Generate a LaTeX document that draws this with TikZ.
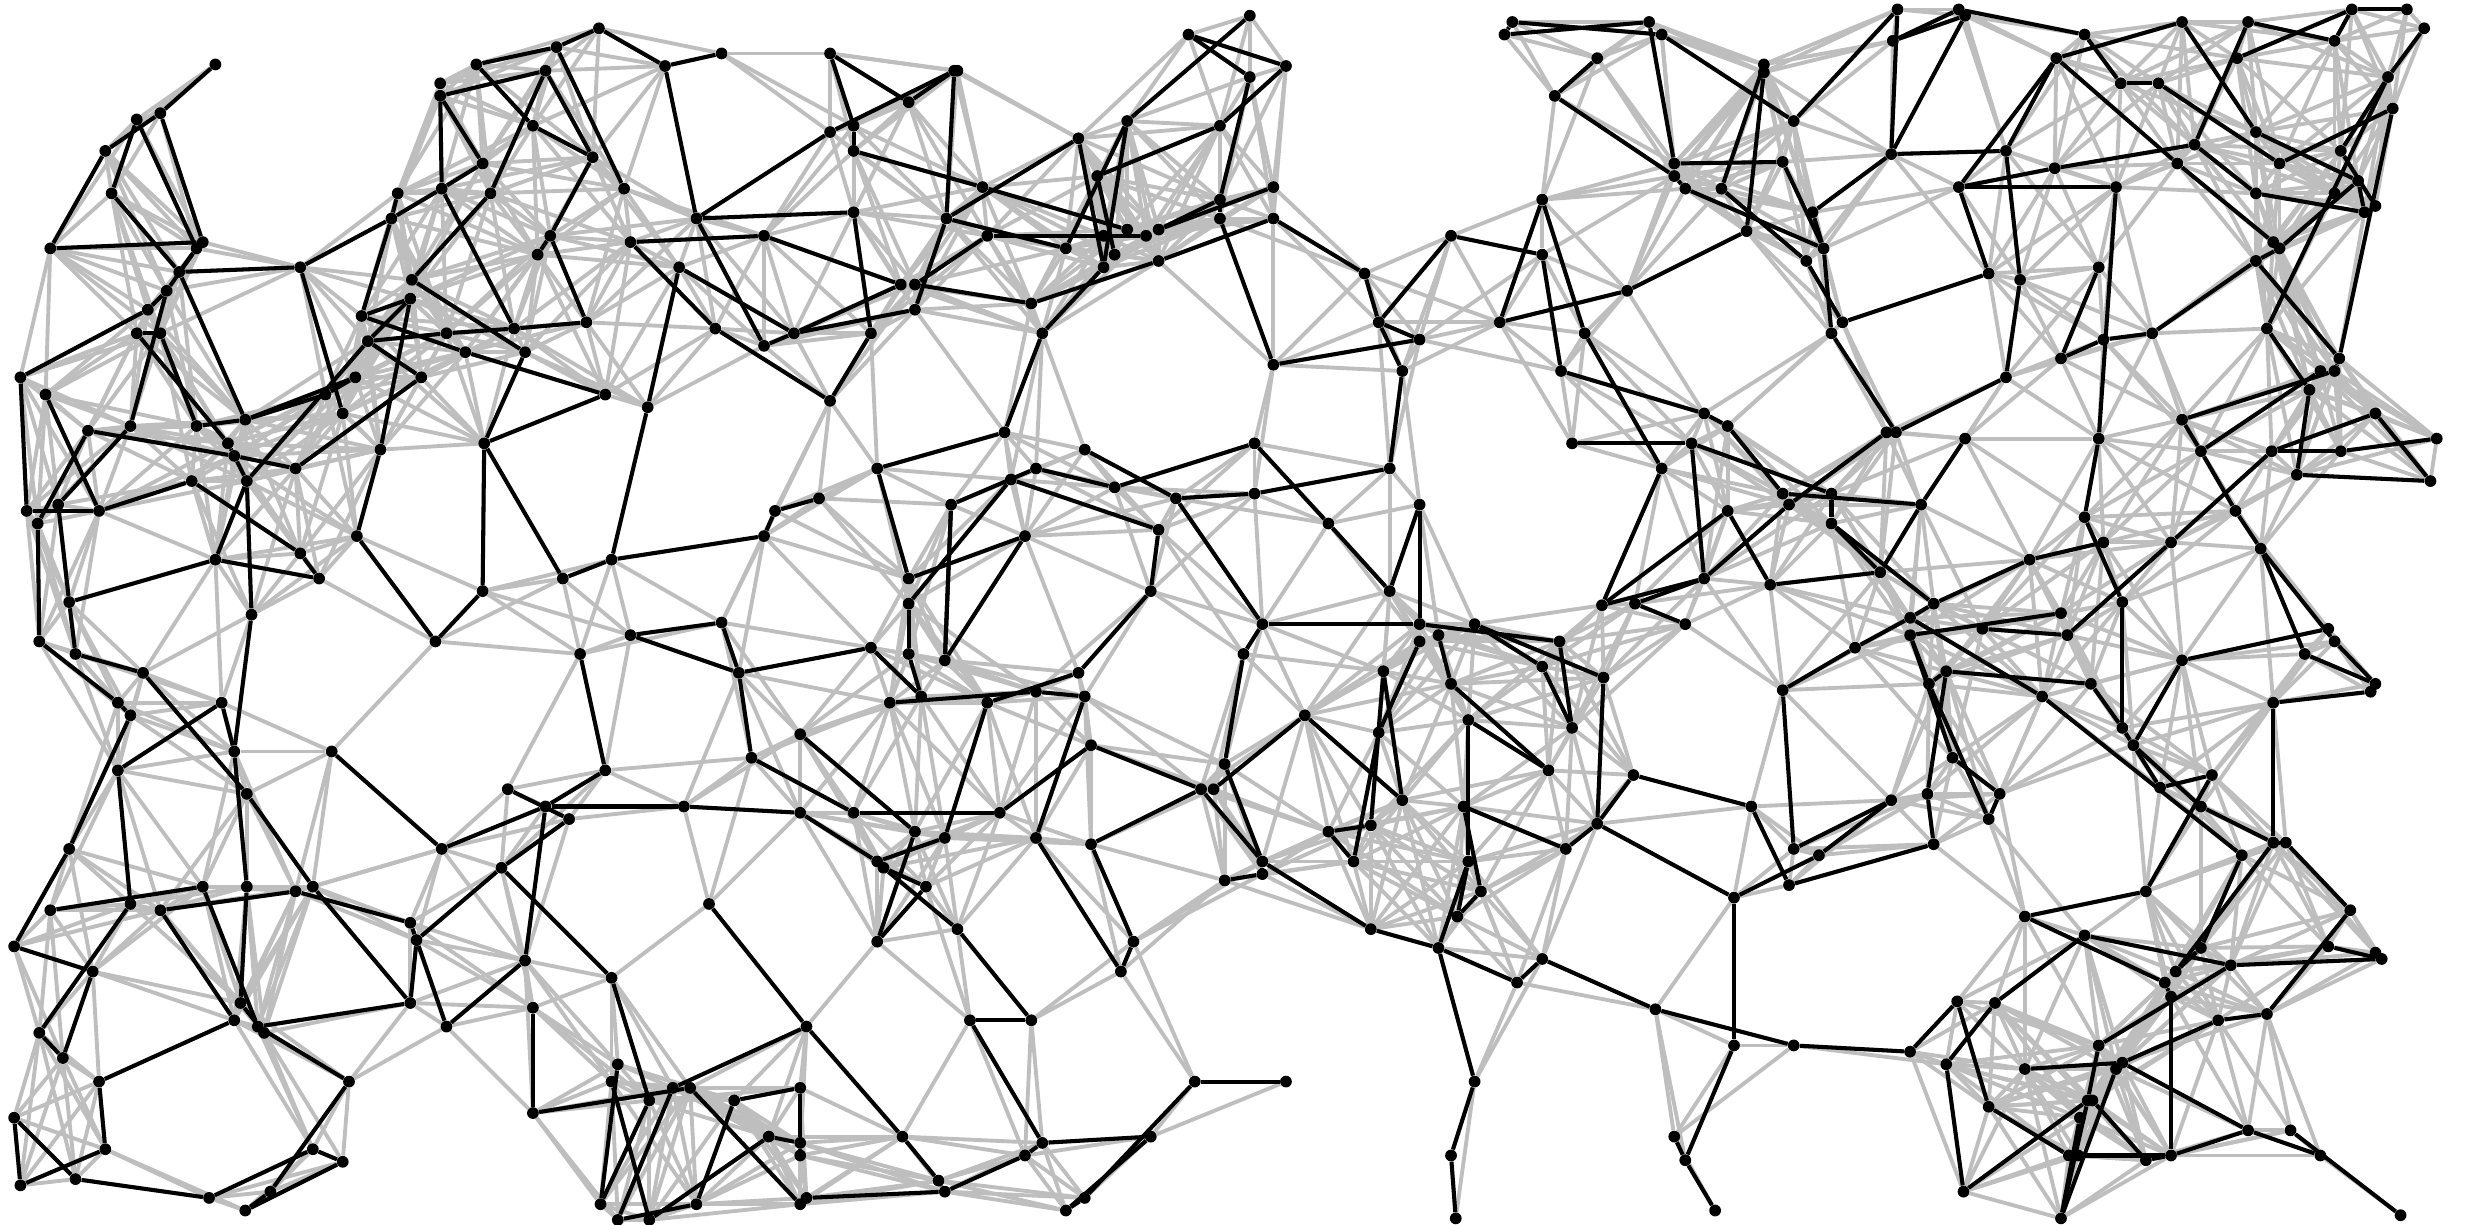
\documentclass[tikz,border=0pt]{standalone}
\usepackage{tikz}
\usetikzlibrary{backgrounds}
\definecolor{linkgray}{RGB}{190,190,190}
\newcount\linkb
\newcommand{\graylinkstep}[1]{%
  \advance\linkb by 1\relax
  \ifnum\linkb>488\else
    \ifnum\numexpr(\csname px#1\endcsname-\csname px\the\linkb\endcsname)*(\csname px#1\endcsname-\csname px\the\linkb\endcsname)+(\csname py#1\endcsname-\csname py\the\linkb\endcsname)*(\csname py#1\endcsname-\csname py\the\linkb\endcsname)\relax<9801\relax
      \draw[grayedge] (n#1) -- (n\the\linkb);
    \fi
    \graylinkstep{#1}%
  \fi}

\begin{document}
\begin{tikzpicture}[
    x=0.03cm, y=-0.03cm,
    dot/.style={circle, fill=black, draw=none, inner sep=0pt, minimum size=6.4pt},
    grayedge/.style={draw=linkgray, line width=2.1pt},
    blackedge/.style={draw=black, line width=2.2pt},
]
\useasboundingbox (0,0) rectangle (1568,779);

% ===== nodes =====
\foreach \i/\x/\y in {
1/137/41,2/102/72,3/87/76,4/67/96,5/71/123,6/32/158,7/129/154,8/125/158,9/114/173,10/191/170,
11/106/185,12/94/197,13/87/212,14/102/212,15/13/240,16/29/251,17/56/274,18/83/271,19/125/271,20/156/267,
21/207/251,22/226/240,23/218/263,24/268/240,25/145/282,26/149/290,27/157/306,28/188/298,29/122/306,30/63/325,
31/37/321,32/17/325,33/24/333,34/227/341,35/137/356,36/191/352,37/203/368,38/44/383,39/160/391,40/242/286,
41/308/282,42/385/251,43/412/259,44/307/376,45/358/368,46/389/356,47/486/341,48/493/325,49/521/317,50/381/18,
51/423/42,52/459/34,53/354/30,54/303/41,55/347/45,56/280/53,57/280/61,58/339/80,59/377/100,60/307/104,
61/397/120,62/281/120,63/253/123,64/312/123,65/249/139,66/443/139,67/350/150,68/342/162,69/401/154,70/486/150,
71/432/170,72/262/178,73/261/190,74/230/201,75/234/217,76/284/212,77/327/209,78/373/205,79/296/224,80/334/224,
81/455/209,82/486/220,83/505/212,84/528/34,85/578/65,86/607/45,87/528/84,88/543/80,89/543/96,90/625/119,
91/602/139,92/543/135,93/628/150,94/678/158,95/686/88,96/698/112,97/717/77,98/756/22,99/795/10,100/795/49,
101/818/42,102/776/80,103/776/127,104/810/119,105/776/139,106/810/139,107/717/146,108/737/146,109/729/150,110/702/150,
111/709/162,112/702/170,113/737/166,114/573/181,115/582/181,116/582/197,117/656/193,118/663/212,119/554/212,120/528/255,
121/639/275,122/558/298,123/690/286,124/659/298,125/643/305,126/605/321,127/709/310,128/748/317,129/798/282,130/798/314,
131/884/298,132/845/333,133/903/321,134/737/337,135/652/341,136/578/368,137/578/384,138/732/376,139/884/376,140/810/232,
141/868/174,142/877/205,143/903/216,144/892/236,145/923/150,146/981/162,147/981/127,148/954/205,149/1035/185,150/1008/212,
151/993/236,152/1000/282,153/989/61,154/1016/37,155/962/14,156/957/22,157/1049/14,158/1057/22,159/1122/41,160/1122/46,
161/1141/77,162/1207/6,163/1246/6,164/1250/10,165/1204/26,166/1203/98,167/1065/104,168/1134/103,169/1065/112,170/1072/120,
171/1095/120,172/1111/147,173/1153/135,174/1160/158,175/1149/166,176/1172/205,177/1165/212,178/1276/96,179/1246/119,180/1307/107,
181/1346/119,182/1308/37,183/1326/22,184/1349/53,185/1373/53,186/1388/14,187/1430/14,188/1485/26,189/1423/37,190/1496/6,
191/1531/6,192/1542/18,193/1519/49,194/1522/69,195/1435/84,196/1396/92,197/1385/104,198/1450/104,199/1489/96,200/1435/123,
201/1485/123,202/1500/115,203/1504/135,204/1511/131,205/1446/154,206/1450/158,207/1435/166,208/1265/174,209/1285/178,210/1335/170,
211/1369/212,212/1338/216,213/1311/228,214/1276/240,215/1442/209,216/1488/228,217/1476/236,218/1485/236,219/1469/248,220/1200/275,
221/1206/275,222/1250/279,223/1335/279,224/1388/267,225/1400/287,226/1445/287,227/1489/287,228/1511/263,229/1550/279,230/1546/306,
231/1461/302,232/1084/263,233/1099/271,234/1076/282,235/1057/298,236/1134/314,237/1165/314,238/1138/321,239/1099/325,240/1165/333,
241/1222/321,242/1196/364,243/1084/368,244/1126/372,245/1230/384,246/1291/356,247/1326/329,248/1338/345,249/1381/345,250/1422/325,
251/1438/349,252/1350/383,253/1311/390,254/25/408,255/48/416,256/91/428,257/75/447,258/83/455,259/141/447,260/149/478,
261/211/478,262/75/490,263/157/505,264/44/540,265/157/564,266/129/564,267/188/567,268/199/564,269/32/579,270/83/575,
271/102/579,272/9/602,273/59/618,274/281/540,275/261/587,276/265/598,277/319/552,278/334/611,279/261/638,280/284/653,
281/339/641,282/389/622,283/149/649,284/153/638,285/164/653,286/168/657,287/25/657,288/40/673,289/63/688,290/222/688,
291/9/711,292/67/731,293/199/731,294/218/739,295/13/754,296/48/750,297/133/762,298/172/758,299/156/770,300/339/708,
301/277/408,302/369/416,303/401/404,304/459/396,305/470/428,306/385/490,307/323/502,308/347/513,309/362/521,310/435/513,
311/478/482,312/509/467,313/509/517,314/451/575,315/513/653,316/393/677,317/389/688,318/428/692,319/439/692,320/413/700,
321/467/700,322/509/692,323/489/723,324/509/727,325/509/735,326/382/766,327/443/766,328/509/766,329/513/762,330/393/776,
331/413/776,332/554/412,333/578/416,334/601/420,335/686/428,336/690/443,337/659/440,338/628/447,339/566/447,340/586/443,
341/694/474,342/636/517,343/543/517,344/582/529,345/601/533,346/659/533,347/694/537,348/558/548,349/562/552,350/589/564,
351/558/599,352/609/591,353/721/599,354/713/618,355/617/649,356/656/649,357/760/688,358/818/688,359/732/723,360/663/727,
361/652/735,362/574/723,363/597/751,364/601/758,365/690/762,366/678/770,367/803/397,368/791/416,369/779/486,370/764/502,
371/772/502,372/830/455,373/803/548,374/803/556,375/779/560,376/903/408,377/903/397,378/915/404,379/938/397,380/992/408,
381/981/424,382/1020/431,383/880/427,384/923/435,385/1000/463,386/877/466,387/934/458,388/985/490,389/892/509,390/931/513,
391/1039/493,392/1016/524,393/996/540,394/845/529,395/872/525,396/861/548,397/934/548,398/942/567,399/927/583,400/872/591,
401/915/603,402/981/610,403/965/625,404/938/688,405/923/735,406/926/775,407/1072/397,408/1180/412,409/1215/393,410/1215/404,
411/1261/400,412/1315/404,413/609/45,414/1134/439,415/1238/427,416/1227/435,417/1330/435,418/1299/443,419/1350/463,420/1357/474,
421/1388/420,422/1466/416,423/1481/400,424/1485/408,425/1511/435,426/1508/440,427/1446/447,428/1242/482,429/1272/505,430/1265/521,
431/1226/505,432/1203/509,433/1114/513,434/1141/540,435/1157/544,436/1230/537,437/1138/563,438/1103/571,439/1374/501,440/1407/493,
441/1400/513,442/1446/536,443/1454/536,444/1426/544,445/1365/567,446/1288/583,447/1326/595,448/1495/579,449/1400/603,450/1384/618,
451/1419/614,452/1481/602,453/1511/606,454/1515/610,455/1377/625,456/1381/634,457/1442/645,458/1411/649,459/1245/637,460/1269/638,
461/1335/665,462/1215/669,463/1141/665,464/1103/665,465/1053/642,466/1238/677,467/1288/680,468/1350/676,469/1346/680,470/1328/700,
471/1331/700,472/1265/704,473/1323/711,474/1430/719,475/1457/719,476/1316/735,477/1322/735,478/1365/738,479/1381/735,480/1476/735,
481/1249/758,482/1311/775,483/1065/723,484/1072/738,485/1091/770,486/1527/773,487/1019/385,488/1040/384}{
  \node[dot] (n\i) at (\x,\y) {};
  \expandafter\xdef\csname px\i\endcsname{\x}
  \expandafter\xdef\csname py\i\endcsname{\y}
}

% ===== gray links: all pairs within reach =====
\begin{pgfonlayer}{background}
\foreach \a in {1,...,487}{
  \linkb=\a\relax
  \graylinkstep{\a}
}
\end{pgfonlayer}

% ===== black links =====
\foreach \a/\b in {
1/2,2/4,3/5,3/8,2/7,4/6,6/7,5/9,9/8,9/10,9/20,8/11,11/12,12/15,11/18,18/31,13/14,13/25,14/19,19/20,
20/21,20/22,21/22,15/32,16/30,17/33,17/26,26/28,25/26,26/27,27/39,27/35,27/75,28/24,75/24,75/76,76/77,77/78,74/79,79/42,
42/41,41/80,80/72,72/64,64/55,74/65,65/63,10/65,65/62,62/60,60/57,57/62,57/56,57/55,62/77,54/53,53/50,54/58,58/59,55/59,
53/61,59/67,67/68,67/78,50/51,51/52,51/66,66/87,66/92,66/82,69/70,70/114,69/81,81/120,71/83,71/43,43/46,82/83,83/114,83/116,
10/23,41/44,41/45,45/46,46/47,47/48,48/49,29/30,30/32,29/36,36/37,35/37,35/38,38/31,33/254,38/255,34/40,40/73,73/74,73/75,
34/301,44/301}
  \draw[blackedge] (n\a) -- (n\b);
\foreach \a/\b in {
84/85,84/88,85/86,87/86,88/89,89/90,90/107,86/91,91/95,91/94,92/119,91/116,93/115,95/112,96/111,97/94,97/112,96/102,97/99,98/101,
98/100,100/103,101/102,103/108,104/108,105/103,105/140,93/109,106/113,113/117,117/115,112/118,118/121,121/122,122/136,123/128,128/130,130/131,131/144,144/142,
142/141,141/106,142/143,143/140,142/145,145/146,146/151,147/148,147/150,148/149,150/235,151/232,232/233,233/236,152/234,129/127,129/132,132/139,139/133,133/377,
127/124,124/126,125/134,125/137,134/138,135/136,135/334,126/334,128/367,367/368,368/369,119/120,153/154,153/169,155/158,156/157,155/156,149/172}
  \draw[blackedge] (n\a) -- (n\b);
\foreach \a/\b in {
157/167,158/161,161/162,162/166,163/165,164/165,164/166,163/183,159/171,160/172,167/168,168/174,169/170,170/174,171/175,175/176,173/166,173/174,174/177,176/208,
177/221,221/214,214/209,209/178,166/178,178/182,179/182,179/180,180/196,179/181,179/208,181/223,182/186,182/197,183/184,184/185,185/198,186/195,187/188,187/196,
189/190,188/190,190/191,192/193,193/199,193/215,194/198,194/216,195/202,199/204,202/206,196/200,200/203,202/203,197/205,206/207,207/211,207/216,215/219,218/224,
217/225,216/218,219/231,224/225,225/250,250/251,251/422,251/424,423/421,424/425,422/425,226/228,228/230,226/227,227/229,231/230,226/249,249/412,248/246,246/245,
247/223,247/252,213/210,213/212,212/211,222/241,236/241,234/237,237/240,234/243,220/238,238/243,240/242,240/245,241/242,239/244,244/242,239/487,235/487,487/243,
488/407,488/243}
  \draw[blackedge] (n\a) -- (n\b);
\foreach \a/\b in {
254/257,255/256,257/258,256/263,258/264,259/262,259/260,39/260,260/265,265/284,262/270,263/268,268/279,264/272,269/266,266/285,271/267,267/275,275/276,276/279,
276/280,280/278,279/285,271/283,270/287,272/273,273/288,287/288,283/289,289/292,292/295,291/295,291/296,296/297,297/293,293/294,294/299,290/298,298/299,285/290,
285/286,284/286,261/274,274/308,277/309,277/276,277/282,307/309,306/308,302/306,303/304,303/305,304/305,305/311,311/343,343/342,308/310,310/313,313/348,312/344,
314/315,308/278,282/320,315/318,300/281,300/319,316/326,317/331,320/326,318/330,319/328,321/322,322/324,321/327,327/330,323/324,323/331,324/325,328/329,329/364}
  \draw[blackedge] (n\a) -- (n\b);
\foreach \a/\b in {
332/340,333/340,137/333,334/126,339/337,337/336,338/335,338/345,345/348,336/346,335/138,341/342,341/370,370/347,347/353,346/354,353/354,344/351,351/350,349/350,
348/349,349/352,352/356,355/356,355/360,360/359,360/361,361/364,362/363,363/364,315/362,357/358,357/365,359/366,365/366,369/373,370/373,371/372,372/389,374/375,
373/374,373/400,400/401,401/403,403/402,402/465,401/404,404/405,405/406,367/377,377/380,376/386,378/384,384/388,379/381,381/385,380/385,379/382,382/392,383/389,
386/396,383/395,394/395,394/396,387/388,387/397,390/398,390/393,393/392,392/391,392/438,397/399,397/401,398/399,391/433,305/332}
  \draw[blackedge] (n\a) -- (n\b);
\foreach \a/\b in {
414/408,408/409,409/245,409/418,418/444,410/253,411/412,252/419,410/428,416/430,416/415,415/417,417/419,415/431,431/436,410/416,428/429,429/430,432/434,432/435,
434/414,435/438,436/437,433/437,438/464,464/484,483/484,484/485,465/463,463/462,462/459,459/472,460/466,460/447,466/481,481/470,472/476,476/479,478/479,478/471,
479/474,474/468,474/480,475/486,461/470,461/451,467/468,469/482,473/482,470/482,468/458,458/457,457/448,446/445,445/440,439/440,446/455,455/456,456/479,447/451,
451/454,452/454,453/454,444/449,442/450,449/450,443/448,442/443,441/442,427/442,426/427,425/426,421/420,420/439,419/420,420/441}
  \draw[blackedge] (n\a) -- (n\b);

\end{tikzpicture}
\end{document}
